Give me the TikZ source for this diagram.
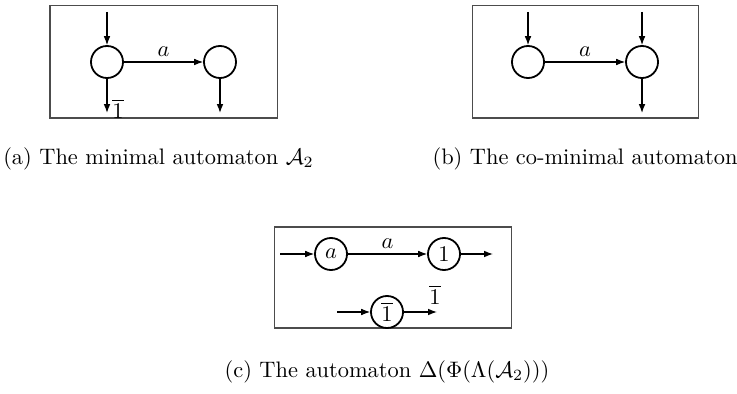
\documentclass[tikz,border=0pt]{standalone}
\usetikzlibrary{arrows.meta}
\begin{document}
\begin{tikzpicture}[x=0.4464pt,y=-0.4464pt,
  st/.style={circle,draw,line width=0.8pt,minimum size=14.3pt,inner sep=0pt},
  tr/.style={-{Latex[length=4pt,width=3pt]},line width=0.5pt},
  frame/.style={draw=black!70,line width=0.45pt},
  lbl/.style={inner sep=0pt}]
\useasboundingbox (0,0) rectangle (737,394);
% (a)
\draw[frame] (50,6) rectangle (277,118);
\node[st] (a1) at (107,62) {};
\node[st] (a2) at (220,62) {};
\coordinate (ai) at (107,12);
\coordinate (af1) at (107,113);
\coordinate (af2) at (220,113);
\draw[tr] (ai) -- (a1);
\draw[tr] (a1) -- node[lbl,above=2pt] {$a$} (a2);
\draw[tr] (a1) -- (af1);
\draw[tr] (a2) -- (af2);
\node[lbl] (la) at (118,109) {$\overline{1}$};
\node (capa) at (158.5,159) {(a) The minimal automaton $\mathcal{A}_2$};
% (b)
\draw[frame] (472,6) rectangle (698,118);
\node[st] (b1) at (528,62) {};
\node[st] (b2) at (642,62) {};
\coordinate (bi1) at (528,12);
\coordinate (bi2) at (642,12);
\coordinate (bf2) at (642,113);
\draw[tr] (bi1) -- (b1);
\draw[tr] (bi2) -- (b2);
\draw[tr] (b1) -- node[lbl,above=2pt] {$a$} (b2);
\draw[tr] (b2) -- (bf2);
\node (capb) at (585,159) {(b) The co-minimal automaton};
% (c)
\draw[frame] (274,227) rectangle (511,328);
\node[st] (c1) at (331,254) {$a$};
\node[st] (c2) at (444,254) {$1$};
\node[st] (c3) at (387,312) {$\overline{1}$};
\coordinate (ci1) at (280,254);
\coordinate (cf2) at (493,254);
\coordinate (ci3) at (337,312);
\coordinate (cf3) at (437,312);
\draw[tr] (ci1) -- (c1);
\draw[tr] (c1) -- node[lbl,above=2pt] {$a$} (c2);
\draw[tr] (c2) -- (cf2);
\draw[tr] (ci3) -- (c3);
\draw[tr] (c3) -- (cf3);
\node[lbl] (lc) at (435,295) {$\overline{1}$};
\node (capc) at (387,372) {(c) The automaton $\Delta(\Phi(\Lambda(\mathcal{A}_2)))$};
\end{tikzpicture}
\end{document}
